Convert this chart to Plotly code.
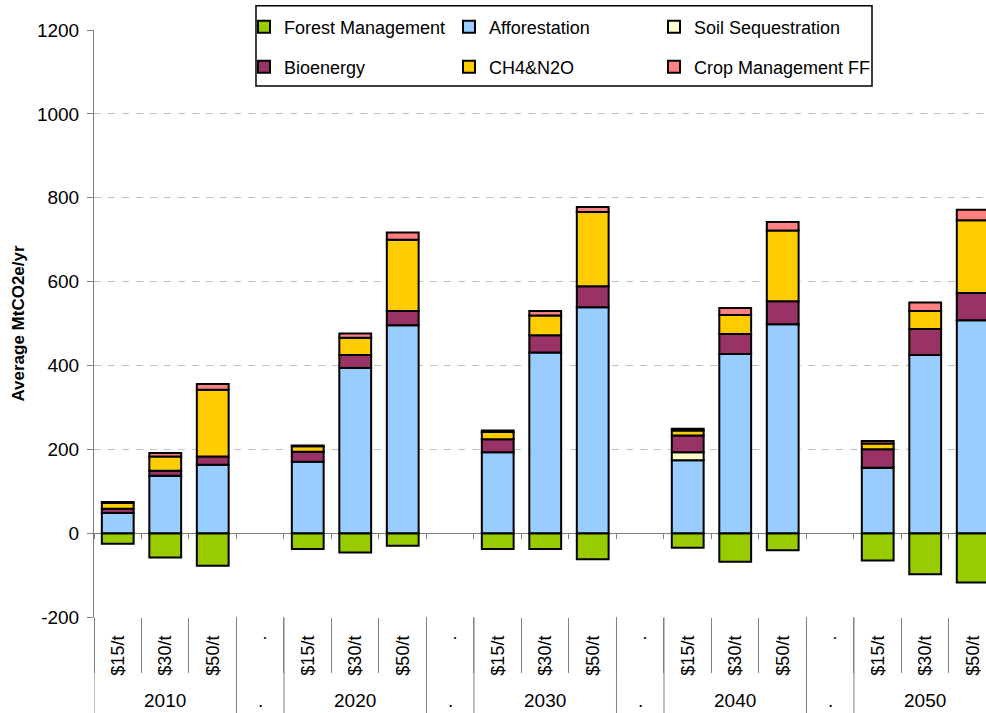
import plotly.graph_objects as go

# ---- data -------------------------------------------------------------
years = ["2010", "2020", "2030", "2040", "2050"]
prices = ["$15/t", "$30/t", "$50/t"]
spacer = "."

# values per (year, price), in MtCO2e/yr
forest_management = [-25, -58, -78, -38, -46, -30, -38, -38, -62, -35, -68, -41, -65, -98, -118]
afforestation = [48, 137, 163, 170, 394, 496, 193, 431, 539, 174, 427, 498, 156, 425, 508]
soil_sequestration = [0, 0, 0, 0, 0, 0, 0, 0, 0, 19, 0, 0, 0, 0, 0]
bioenergy = [10, 12, 20, 24, 31, 34, 31, 41, 50, 40, 48, 55, 44, 62, 65]
ch4_n2o = [14, 34, 159, 13, 41, 170, 17, 47, 177, 12, 45, 169, 14, 43, 173]
crop_management_ff = [2, 8, 14, 2, 10, 17, 4, 11, 12, 4, 17, 20, 6, 20, 25]

y_min, y_max, y_step = -200, 1200, 200
y_ticks = list(range(y_min, y_max + 1, y_step))
y_ticktext = [str(v) for v in y_ticks]

# ---- category slots: three prices per year, a spacer slot between years ----
slot_inner, slot_outer, slot_src = [], [], []
k = 0
for yi, yr in enumerate(years):
    for p in prices:
        slot_inner.append(p)
        slot_outer.append(yr)
        slot_src.append(k)
        k += 1
    if yi < len(years) - 1:
        slot_inner.append(spacer)
        slot_outer.append(spacer)
        slot_src.append(None)
x_pos = list(range(len(slot_inner)))


def spread(values):
    return [None if s is None or values[s] == 0 else values[s] for s in slot_src]


series = [
    ("Forest Management", forest_management, "#99CC00"),
    ("Afforestation", afforestation, "#99CCFF"),
    ("Soil Sequestration", soil_sequestration, "#FFFFCC"),
    ("Bioenergy", bioenergy, "#993366"),
    ("CH4&N2O", ch4_n2o, "#FFCC00"),
    ("Crop Management FF", crop_management_ff, "#FF8080"),
]

FONT = "Liberation Sans, Arial, sans-serif"
AXIS_GRAY = "#808080"

# one single-entry legend per series, laid out as a 3 x 2 grid
legend_ids = ["legend"] + [f"legend{i}" for i in range(2, len(series) + 1)]
legend_layout = {}
for i, lid in enumerate(legend_ids):
    col, row = i % 3, i // 3
    legend_layout[lid] = dict(
        orientation="h", xanchor="left", yanchor="middle",
        x=(244 + 205 * col - 94) / 892,
        y=1.0051 if row == 0 else 0.937,
        font=dict(family=FONT, size=18, color="black"),
        bgcolor="rgba(0,0,0,0)", borderwidth=0,
    )

fig = go.Figure()
for (name, vals, color), lid in zip(series, legend_ids):
    fig.add_trace(go.Bar(
        x=x_pos, y=spread(vals), name=name, legend=lid,
        width=0.67,
        marker=dict(color=color, line=dict(color="black", width=2)),
    ))

# helper trace carrying the zero-level category axis
fig.add_trace(go.Scatter(x=[], y=[], xaxis="x2", showlegend=False, hoverinfo="skip"))

x_range = [-0.5, 18.28]

# group dividers (left edge and both sides of each spacer slot)
divider_x = [-0.5]
for i, lab in enumerate(slot_outer):
    if lab == spacer:
        divider_x += [i - 0.5, i + 0.5]
shapes = [
    dict(type="line", xref="x", yref="paper", x0=dx, x1=dx, y0=0, y1=-0.165,
         line=dict(color=AXIS_GRAY, width=1))
    for dx in divider_x
]
# legend frame
shapes.append(dict(type="rect", xref="paper", yref="paper",
                   x0=0.1816, x1=0.8722, y0=0.9046, y1=1.0414,
                   fillcolor="white", line=dict(color="black", width=1.5), layer="above"))

# year labels under each group, dots under the spacer slots
groups = {}
for i, lab in enumerate(slot_outer):
    groups.setdefault((lab, i if lab == spacer else None), []).append(i)
annotations = []
for (lab, _), idx in groups.items():
    annotations.append(dict(
        x=sum(idx) / len(idx), xref="x", y=-0.142, yref="paper",
        text=lab, showarrow=False, yanchor="middle",
        font=dict(family=FONT, size=19, color="black"),
    ))

fig.update_layout(
    width=986, height=713,
    margin=dict(l=94, r=0, t=30, b=96, pad=0),
    paper_bgcolor="white", plot_bgcolor="white",
    barmode="relative",
    showlegend=True,
    font=dict(family=FONT, size=18, color="black"),
    shapes=shapes,
    annotations=annotations,
    xaxis=dict(
        range=x_range, tickmode="array", tickvals=x_pos, ticktext=slot_inner,
        tickangle=-90, ticks="", showline=False, showgrid=False, zeroline=False,
        ticklabelstandoff=14,
        tickfont=dict(family=FONT, size=18, color="black"),
        minor=dict(ticks="outside", ticklen=55, tickcolor=AXIS_GRAY, tickwidth=1,
                   tick0=0.5, dtick=1, showgrid=False),
    ),
    xaxis2=dict(
        overlaying="x", anchor="free", position=(0 - y_min) / (y_max - y_min),
        range=x_range, showline=True, linecolor=AXIS_GRAY, linewidth=1,
        showticklabels=False, ticks="", showgrid=False, zeroline=False,
        layer="below traces",
        minor=dict(ticks="outside", ticklen=5, tickcolor=AXIS_GRAY, tickwidth=1,
                   tick0=0.5, dtick=1, showgrid=False),
    ),
    yaxis=dict(
        range=[y_min, y_max], tickmode="array", tickvals=y_ticks, ticktext=y_ticktext,
        showgrid=True, gridcolor="#C0C0C0", griddash="7px,7px", gridwidth=1,
        showline=True, linecolor=AXIS_GRAY, linewidth=1,
        ticks="outside", ticklen=6, tickcolor=AXIS_GRAY, ticklabelstandoff=4,
        zeroline=False,
        tickfont=dict(family=FONT, size=19, color="black"),
        title=dict(text="Average MtCO2e/yr", standoff=7,
                   font=dict(family=FONT, size=17, color="black", weight="bold")),
    ),
    **legend_layout,
)

fig.write_html("out.html")
